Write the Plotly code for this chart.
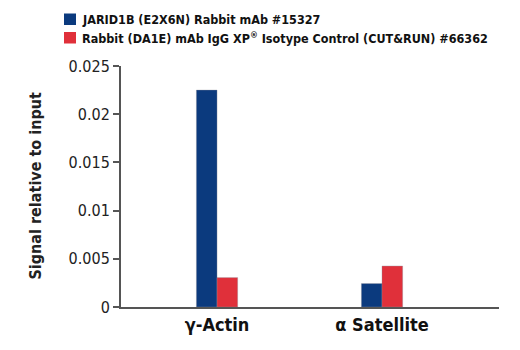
import plotly.graph_objects as go

# Targets on the x axis
categories = ["γ-Actin", "α Satellite"]

# Series names and values (signal relative to input)
series_names = [
    "JARID1B (E2X6N) Rabbit mAb #15327",
    "Rabbit (DA1E) mAb IgG XP® Isotype Control (CUT&RUN) #66362",
]
jarid1b_values = [0.0225, 0.00243]
igg_values = [0.00305, 0.00425]

# Y axis ticks
y_tick_values = [0, 0.005, 0.01, 0.015, 0.02, 0.025]
y_tick_labels = ["0", "0.005", "0.01", "0.015", "0.02", "0.025"]

colors = ["#0b3a7e", "#e0303a"]
font_family = "Liberation Sans Narrow, DejaVu Sans Condensed, Arial Narrow, sans-serif"

fig = go.Figure()
for name, vals, col in zip(series_names, [jarid1b_values, igg_values], colors):
    fig.add_trace(go.Bar(
        x=categories, y=vals, name=name,
        marker=dict(color=col, line=dict(color="rgba(140,140,150,0.6)", width=0.6)),
    ))

# Legend drawn as swatches plus text at the top left
W, H = 520, 350
L, R, T, B = 121, 21, 66, 43
pw, ph = W - L - R, H - T - B


def px_x(x):
    return (x - L) / pw


def px_y(y):
    return (H - B - y) / ph


shapes = []
annotations = []
for i, (name, col) in enumerate(zip(series_names, colors)):
    top = 13.5 + i * 18.5
    shapes.append(dict(type="rect", xref="paper", yref="paper",
                       x0=px_x(64), x1=px_x(76), y0=px_y(top + 11.5), y1=px_y(top),
                       fillcolor=col, line=dict(width=0)))
    annotations.append(dict(xref="paper", yref="paper", x=px_x(79.5), y=px_y(top + 5.8),
                            xanchor="left", yanchor="middle", showarrow=False,
                            text="<b>%s</b>" % name.replace("®", "<sup>®</sup>"),
                            font=dict(family=font_family, size=12.5, color="#111")))

annotations.append(dict(xref="paper", yref="paper", x=px_x(35), y=0.5,
                        xanchor="center", yanchor="middle", showarrow=False,
                        textangle=-90, text="<b>Signal relative to input</b>",
                        font=dict(family=font_family, size=16, color="#222")))

fig.update_layout(
    width=W, height=H,
    margin=dict(l=L, r=R, t=T, b=B, pad=0),
    paper_bgcolor="white", plot_bgcolor="white",
    barmode="group", bargap=0.75, bargroupgap=0,
    showlegend=False,
    shapes=shapes, annotations=annotations,
    font=dict(family=font_family, color="#222"),
)
fig.update_xaxes(
    range=[-0.582, 1.709], showline=True, linecolor="#555", linewidth=2,
    ticks="", showgrid=False, zeroline=False,
    tickfont=dict(family=font_family, size=18, color="#111"),
    tickvals=categories, ticktext=["<b>%s</b>" % c for c in categories],
)
fig.update_yaxes(
    range=[0, 0.025], showline=True, linecolor="#555", linewidth=2,
    ticks="outside", ticklen=6, tickcolor="#555", tickwidth=1.5,
    showgrid=False, zeroline=False,
    tickvals=y_tick_values, ticktext=y_tick_labels,
    tickfont=dict(family=font_family, size=16, color="#222"),
)

fig.write_html("out.html")
